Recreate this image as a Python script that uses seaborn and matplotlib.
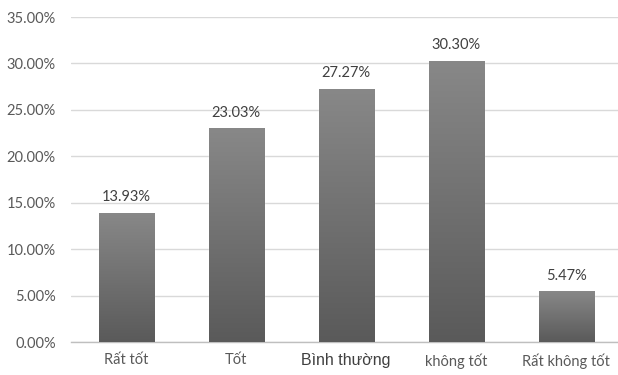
import numpy as np
import pandas as pd
import matplotlib
matplotlib.use("Agg")
import matplotlib.pyplot as plt
import seaborn as sns
from matplotlib.colors import LinearSegmentedColormap

categories = ["Rất tốt", "Tốt", "Bình thường", "không tốt", "Rất không tốt"]
shares = [13.93, 23.03, 27.27, 30.30, 5.47]
yticks = [0, 5, 10, 15, 20, 25, 30, 35]

sns.set_theme(style="white")
plt.rcParams["font.family"] = ["Lato", "DejaVu Sans"]

df = pd.DataFrame({"cat": categories, "val": shares})

fig = plt.figure(figsize=(6.18, 3.75), dpi=100)
ax = fig.add_axes([71 / 618, 1 - 342 / 375, 1 - 71 / 618, (342 - 17) / 375])

sns.barplot(data=df, x="cat", y="val", color="#707070", width=0.5, ax=ax,
            saturation=1, zorder=3)

ax.set_ylim(0, 35)
ax.set_xlim(-0.5, 4.47)
ax.set_yticks(yticks)
ax.set_yticklabels([f"{t:.2f}%" for t in yticks], fontsize=10.5, color="#595959")
ax.yaxis.grid(True, color="#d9d9d9", linewidth=1, zorder=0)
ax.set_axisbelow(True)
ax.set_xlabel("")
ax.set_ylabel("")
for s in ["top", "right", "left"]:
    ax.spines[s].set_visible(False)
ax.spines["bottom"].set_color("#bfbfbf")
ax.spines["bottom"].set_linewidth(1)
ax.tick_params(axis="both", length=0)
ax.tick_params(axis="y", pad=11)
ax.tick_params(axis="x", pad=8)

ax.set_xticks(range(len(categories)))
ax.set_xticklabels(categories, fontsize=10.5, color="#595959")
for lbl in ax.get_xticklabels():
    if lbl.get_text() == "Bình thường":
        lbl.set_fontfamily(["Liberation Sans", "DejaVu Sans"])
        lbl.set_fontsize(11.5)
        lbl.set_color("#404040")

# vertical gradient fill clipped to each bar, plus a soft shadow
cmap = LinearSegmentedColormap.from_list("bar", ["#5a5a5a", "#888888"])
grad = np.linspace(0, 1, 256).reshape(-1, 1)
for patch, v in zip(ax.patches, shares):
    x0 = patch.get_x()
    w = patch.get_width()
    shadow = plt.Rectangle((x0 + 0.012, 0), w, v - 0.12, color="#000000",
                           alpha=0.12, zorder=2, linewidth=0)
    ax.add_patch(shadow)
    im = ax.imshow(grad, cmap=cmap, origin="lower", aspect="auto",
                   extent=[x0, x0 + w, 0, v], zorder=4)
    im.set_clip_path(patch)
    ax.text(x0 + w / 2, v + 0.9, f"{v:.2f}%", ha="center", va="bottom",
            fontsize=10.5, color="#404040", zorder=5)

ax.set_xlim(-0.5, 4.47)
ax.set_ylim(0, 35)

fig.savefig("out.png", dpi=100)
